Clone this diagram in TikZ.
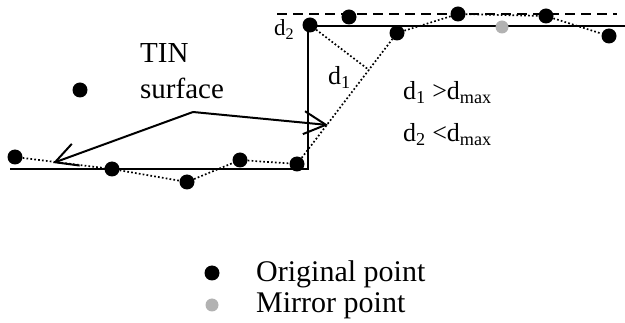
\documentclass[tikz,border=0pt]{standalone}
\usepackage{fontspec}
\setmainfont{Liberation Serif}
\usetikzlibrary{arrows.meta}
\tikzset{
  opt/.style={circle, fill=black, inner sep=0pt, minimum size=15pt},
  mpt/.style={circle, fill=gray!60, inner sep=0pt, minimum size=13pt},
  ground/.style={line width=2pt},
  tinedge/.style={line width=1.7pt, dash pattern=on 1.7pt off 2.2pt},
  shiftline/.style={line width=1.8pt, dash pattern=on 10pt off 6pt},
  tinarrow/.style={line width=2pt, -{Straight Barb[length=22pt, width=23pt, line width=2pt]}},
  lbl/.style={font=\fontsize{#1}{#1}\selectfont, inner sep=0pt, anchor=base west},
  lbl/.default=29,
}
\begin{document}
\begin{tikzpicture}[x=1pt, y=-1pt]
\useasboundingbox (0,0) rectangle (625,323);

% Ground profile and shifted line
\draw[ground] (10,169) -- (308,169) -- (308,26) -- (625,26);
\draw[shiftline] (277,14) -- (617,14);

% Original points
\node[opt] (p1) at (15,157) {};
\node[opt] (p2) at (112,169) {};
\node[opt] (p3) at (187,182) {};
\node[opt] (p4) at (240,160) {};
\node[opt] (p5) at (297,164) {};
\node[opt] (p6) at (80,90) {};
\node[opt] (p7) at (310,25) {};
\node[opt] (p8) at (349,17) {};
\node[opt] (p9) at (397,33) {};
\node[opt] (p10) at (458,14) {};
\node[opt] (p11) at (546,16) {};
\node[opt] (p12) at (609,36) {};

% Mirror point
\node[mpt] (m1) at (502,27) {};

% TIN surface
\draw[tinedge] (p1) -- (p2) -- (p3) -- (p4) -- (p5) -- (p9) -- (p10) -- (p11) -- (p12);
\coordinate (foot) at (369,70);
\draw[tinedge] (p7) -- (foot);

% Arrows to the surface
\coordinate (apex) at (193,112);
\coordinate (tipL) at (53,163);
\coordinate (tipR) at (328,125);
\draw[tinarrow] (apex) -- (tipL);
\draw[tinarrow] (apex) -- (tipR);

% Labels
\node[lbl] (tin) at (140,63) {TIN};
\node[lbl] (surf) at (140,99) {surface};
\node[lbl=23] (dtwo) at (274,36) {d\textsubscript{2}};
\node[lbl=26] (done) at (328,85) {d\textsubscript{1}};
\node[lbl=26] (rule1) at (403,100) {d\textsubscript{1} >d\textsubscript{max}};
\node[lbl=26] (rule2) at (403,142) {d\textsubscript{2} <d\textsubscript{max}};

% Legend
\node[opt] (lgo) at (212,273) {};
\node[lbl=30] (lgotext) at (256,282) {Original point};
\node[mpt] (lgm) at (212,305) {};
\node[lbl=30] (lgmtext) at (256,313) {Mirror point};

\end{tikzpicture}
\end{document}
